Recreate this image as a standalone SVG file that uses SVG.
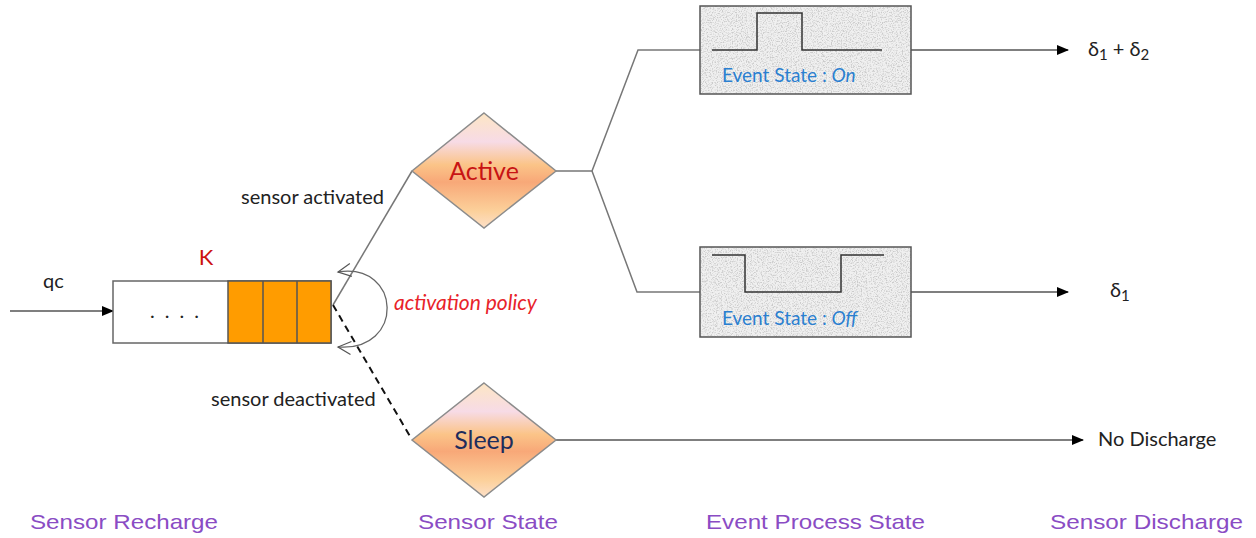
<svg xmlns="http://www.w3.org/2000/svg" width="1256" height="538" viewBox="0 0 1256 538">
  <style>
    .lbl { font-family: Lato, "Open Sans", "Liberation Sans", sans-serif; font-size: 20px; fill: #222; }
    .stage { font-family: "Liberation Sans", Arial, sans-serif; font-size: 21px; fill: #8a4cc4; }
    .evt { font-family: Lato, "Open Sans", "Liberation Sans", sans-serif; font-size: 19px; fill: #2a7fd0; }
    .dia { stroke: #8c8c8c; stroke-width: 1.5; fill: url(#diaFill); }
    .dtxt { font-family: Lato, "Open Sans", "Liberation Sans", sans-serif; font-size: 25px; text-anchor: middle; }
    .wire { fill: none; stroke: #777; stroke-width: 1.5; }
    .arrow { fill: none; stroke: #555; stroke-width: 1.5; marker-end: url(#tri); }
    .pulse { fill: none; stroke: #333; stroke-width: 1.5; }
  </style>
  <defs>
    <linearGradient id="diaFill" x1="0" y1="0" x2="0" y2="1">
      <stop offset="0" stop-color="#fde6c4"/>
      <stop offset="0.25" stop-color="#f7dbe6"/>
      <stop offset="0.45" stop-color="#fbc488"/>
      <stop offset="0.6" stop-color="#f8a878"/>
      <stop offset="0.85" stop-color="#fcd09a"/>
      <stop offset="1" stop-color="#fde0c8"/>
    </linearGradient>
    <!-- granite speckle for the event boxes -->
    <filter id="grain" x="0" y="0" width="100%" height="100%">
      <feTurbulence type="fractalNoise" baseFrequency="0.8" numOctaves="3" seed="5" result="n"/>
      <feColorMatrix in="n" type="matrix" values="0 0 0 0 0.6  0 0 0 0 0.6  0 0 0 0 0.6  0 0 0 3.5 -1.6" result="g"/>
      <feComposite in="g" in2="SourceGraphic" operator="in"/>
    </filter>
    <marker id="tri" markerWidth="12" markerHeight="10" refX="11" refY="5" orient="auto" markerUnits="userSpaceOnUse">
      <path d="M0,0 L12,5 L0,10 Z" fill="#000"/>
    </marker>
    <marker id="vee" markerWidth="16" markerHeight="16" refX="14" refY="8" orient="auto-start-reverse" markerUnits="userSpaceOnUse">
      <path d="M1,1.5 L14,8 L1,14.5" fill="none" stroke="#555" stroke-width="1.2"/>
    </marker>
  </defs>

  <!-- connectors -->
  <g id="connectors">
    <line class="arrow" x1="10" y1="311" x2="113" y2="311"/>
    <line class="wire" x1="333" y1="305" x2="412" y2="171"/>
    <line x1="333" y1="305" x2="411" y2="438" stroke="#111" stroke-width="2" stroke-dasharray="7,5"/>
    <path d="M338,272 C402,262 405,352 338,347" fill="none" stroke="#666" stroke-width="1.3" marker-start="url(#vee)" marker-end="url(#vee)"/>
    <polyline class="wire" points="556,171 592,171 638,50 700,50"/>
    <polyline class="wire" points="592,171 637,292 700,292"/>
    <line class="arrow" x1="911" y1="50" x2="1068" y2="50"/>
    <line class="arrow" x1="911" y1="292" x2="1068" y2="292"/>
    <line class="arrow" x1="556" y1="440" x2="1083" y2="440"/>
  </g>

  <!-- queue -->
  <g id="queue">
    <rect x="113" y="281" width="218" height="62" fill="#fff" stroke="#666" stroke-width="1.5"/>
    <rect x="228" y="281" width="103" height="62" fill="#ff9c00" stroke="#555" stroke-width="1.5"/>
    <line x1="263" y1="281" x2="263" y2="343" stroke="#555" stroke-width="1.5"/>
    <line x1="297" y1="281" x2="297" y2="343" stroke="#555" stroke-width="1.5"/>
    <text x="150" y="318" class="lbl" font-size="20" letter-spacing="10">....</text>
    <text x="206" y="265" class="lbl" style="fill:#cc1111;font-size:22px" text-anchor="middle">K</text>
  </g>

  <!-- sensor state nodes -->
  <g id="active">
    <polygon class="dia" points="484,113 556,171 484,228 412,171"/>
    <text x="484" y="180" class="dtxt" fill="#c81414">Active</text>
  </g>
  <g id="sleep">
    <polygon class="dia" points="484,383 556,440 484,497 412,440"/>
    <text x="484" y="449" class="dtxt" fill="#1f2d5c">Sleep</text>
  </g>

  <!-- event process boxes -->
  <g id="event-on">
    <rect x="700" y="6" width="211" height="88" fill="#f0f0f0"/>
    <rect x="700" y="6" width="211" height="88" fill="#fff" filter="url(#grain)"/>
    <rect x="700" y="6" width="211" height="88" fill="none" stroke="#555" stroke-width="1.5"/>
    <polyline class="pulse" points="712,50 757,50 757,13 802,13 802,50 882,50"/>
    <text x="722" y="82" class="evt">Event State : <tspan font-style="italic">On</tspan></text>
  </g>
  <g id="event-off">
    <rect x="700" y="247" width="211" height="90" fill="#f0f0f0"/>
    <rect x="700" y="247" width="211" height="90" fill="#fff" filter="url(#grain)"/>
    <rect x="700" y="247" width="211" height="90" fill="none" stroke="#555" stroke-width="1.5"/>
    <polyline class="pulse" points="712,255 745,255 745,292 841,292 841,255 884,255"/>
    <text x="722" y="325" class="evt">Event State : <tspan font-style="italic">Off</tspan></text>
  </g>

  <!-- labels -->
  <g id="labels">
    <text x="43" y="288" class="lbl" font-size="19">qc</text>
    <text x="241" y="204" class="lbl">sensor activated</text>
    <text x="211" y="406" class="lbl">sensor deactivated</text>
    <text x="394" y="310" class="lbl" style="fill:#e8232a;font-style:italic;font-size:21px">activation policy</text>
    <text x="1088" y="56" class="lbl" font-size="22">δ<tspan font-size="15" dy="4">1</tspan><tspan dy="-4"> + δ</tspan><tspan font-size="15" dy="4">2</tspan></text>
    <text x="1110" y="297" class="lbl" font-size="22">δ<tspan font-size="15" dy="4">1</tspan></text>
    <text x="1098" y="446" class="lbl" font-size="24">No Discharge</text>
  </g>

  <!-- stage captions -->
  <g id="stages">
    <text x="30" y="529" class="stage" textLength="188" lengthAdjust="spacingAndGlyphs">Sensor Recharge</text>
    <text x="418" y="529" class="stage" textLength="140" lengthAdjust="spacingAndGlyphs">Sensor State</text>
    <text x="706" y="529" class="stage" textLength="219" lengthAdjust="spacingAndGlyphs">Event Process State</text>
    <text x="1050" y="529" class="stage" textLength="193" lengthAdjust="spacingAndGlyphs">Sensor Discharge</text>
  </g>
</svg>
